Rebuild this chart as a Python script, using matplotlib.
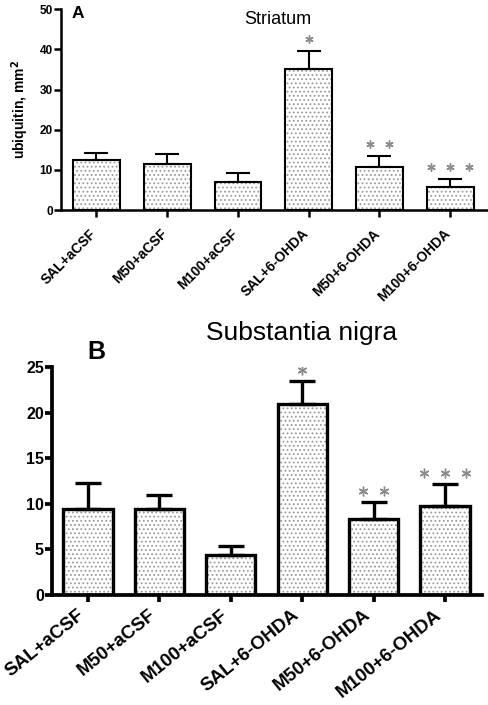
import numpy as np
import matplotlib
matplotlib.use("Agg")
import matplotlib.pyplot as plt
from matplotlib.transforms import ScaledTranslation

plt.rcParams["font.family"] = ["Liberation Sans", "DejaVu Sans"]
plt.rcParams["hatch.color"] = "#9a9a9a"
plt.rcParams["hatch.linewidth"] = 0.8

groups = ["SAL+aCSF", "M50+aCSF", "M100+aCSF", "SAL+6-OHDA", "M50+6-OHDA", "M100+6-OHDA"]

str_mean = [12.4, 11.4, 6.9, 35.2, 10.7, 5.7]
str_sem = [1.7, 2.5, 2.3, 4.3, 2.7, 2.0]
sn_mean = [9.4, 9.4, 4.4, 21.0, 8.4, 9.8]
sn_sem = [2.9, 1.6, 1.0, 2.5, 1.8, 2.4]
stars = [0, 0, 0, 1, 2, 3]


def draw_panel(ax, mean, sem, width, lw, cap, ymax, yticks, star_gap, star_sep, star_size):
    x = np.arange(len(mean))
    ax.bar(x, mean, width, color="white", edgecolor="#9a9a9a", linewidth=0, hatch="....", zorder=1)
    ax.bar(x, mean, width, color="none", edgecolor="black", linewidth=lw, zorder=3)
    ax.errorbar(x, mean, yerr=[np.zeros(len(sem)), sem], fmt="none", ecolor="black",
                elinewidth=lw, capsize=cap, capthick=lw, zorder=2)
    for i, n in enumerate(stars):
        if n == 0:
            continue
        offs = (np.arange(n) - (n - 1) / 2) * star_sep
        ax.plot(x[i] + offs, [mean[i] + sem[i] + star_gap] * n, linestyle="none",
                marker=(6, 2, 0), markersize=star_size, color="#8a8a8a", mew=1.0)
    ax.set_xlim(-0.5, 5.52)
    ax.set_ylim(0, ymax)
    ax.set_yticks(yticks)
    ax.set_xticks(x)
    for s in ["top", "right"]:
        ax.spines[s].set_visible(False)
    for s in ["left", "bottom"]:
        ax.spines[s].set_linewidth(lw + 0.3)
    ax.tick_params(width=lw + 0.3, length=5, direction="out")


fig = plt.figure(figsize=(4.88, 7.05), dpi=100)

ax1 = fig.add_axes([0.125, 0.702, 0.873, 0.285])
draw_panel(ax1, str_mean, str_sem, 0.66, 1.5, 8.6, 50, [0, 10, 20, 30, 40, 50], 3.0, 0.27, 6)
ax1.set_xticklabels(groups, rotation=45, ha="right", fontsize=10, fontweight="bold")
ax1.set_yticklabels([0, 10, 20, 30, 40, 50], fontsize=8.5, fontweight="bold")
ax1.tick_params(axis="x", pad=7)
ax1.tick_params(axis="y", pad=1)
shift = ScaledTranslation(3 / 100, 0, fig.dpi_scale_trans)
for t in ax1.get_xticklabels():
    t.set_transform(t.get_transform() + shift)
ax1.set_ylabel("ubiquitin, mm$^\\mathbf{2}$", fontsize=10, fontweight="bold", labelpad=6)
fig.text(0.57, 0.972, "Striatum", fontsize=13, ha="center", va="center")
fig.text(0.16, 0.981, "A", fontsize=12.5, fontweight="bold", ha="center", va="center")

ax2 = fig.add_axes([0.107, 0.156, 0.881, 0.323])
draw_panel(ax2, sn_mean, sn_sem, 0.69, 2.4, 9.4, 25, [0, 5, 10, 15, 20, 25], 1.2, 0.3, 7)
ax2.set_xticklabels(groups, rotation=39, ha="right", fontsize=13.5, fontweight="bold")
ax2.set_yticklabels([0, 5, 10, 15, 20, 25], fontsize=11.5, fontweight="bold")
ax2.tick_params(axis="x", pad=3)
ax2.tick_params(axis="y", pad=1)
fig.text(0.617, 0.527, "Substantia nigra", fontsize=19, ha="center", va="center")
fig.text(0.197, 0.501, "B", fontsize=18, fontweight="bold", ha="center", va="center")

fig.savefig("out.png", dpi=100)
